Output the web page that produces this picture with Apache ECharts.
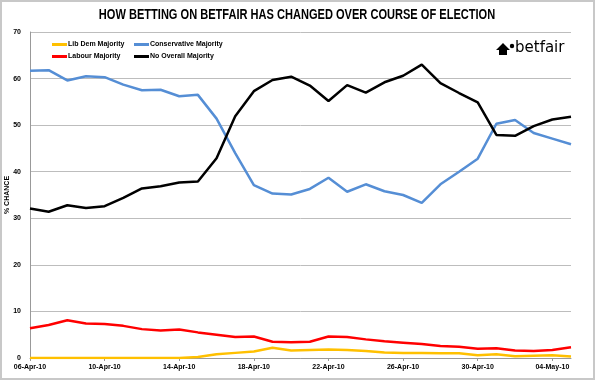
<!DOCTYPE html>
<html><head><meta charset="utf-8">
<script src="https://cdn.jsdelivr.net/npm/echarts@6/dist/echarts.min.js"></script>
<style>html,body{margin:0;padding:0;background:#fff}#c{width:595px;height:380px}</style>
</head><body><div id="c"></div>
<script>
const dates = ["06-Apr-10","07-Apr-10","08-Apr-10","09-Apr-10","10-Apr-10","11-Apr-10","12-Apr-10","13-Apr-10","14-Apr-10","15-Apr-10","16-Apr-10","17-Apr-10","18-Apr-10","19-Apr-10","20-Apr-10","21-Apr-10","22-Apr-10","23-Apr-10","24-Apr-10","25-Apr-10","26-Apr-10","27-Apr-10","28-Apr-10","29-Apr-10","30-Apr-10","01-May-10","02-May-10","03-May-10","04-May-10","05-May-10"];
const libDem = [0,0,0,0,0,0,0,0,0,0.2,0.8,1.1,1.4,2.2,1.6,1.7,1.8,1.7,1.5,1.2,1.1,1.1,1.0,1.0,0.6,0.8,0.4,0.5,0.6,0.3];
const conservative = [61.7,61.8,59.6,60.5,60.3,58.7,57.5,57.6,56.2,56.5,51.4,44.0,37.1,35.3,35.1,36.3,38.7,35.7,37.3,35.8,35.0,33.3,37.3,40.0,42.8,50.3,51.1,48.3,47.1,45.9];
const labour = [6.4,7.1,8.1,7.4,7.3,6.9,6.2,5.9,6.1,5.5,5.0,4.5,4.6,3.5,3.4,3.5,4.6,4.5,4.0,3.6,3.3,3.0,2.6,2.4,2.0,2.1,1.6,1.5,1.7,2.3];
const noOverall = [32.1,31.4,32.8,32.2,32.6,34.4,36.4,36.9,37.7,37.9,42.9,51.9,57.3,59.7,60.4,58.5,55.2,58.6,57.0,59.2,60.6,63.0,59.0,56.9,54.9,47.9,47.7,49.8,51.2,51.8];
const yTicks = [0,10,20,30,40,50,60,70];
const titleText = 'HOW BETTING ON BETFAIR HAS CHANGED OVER COURSE OF ELECTION';

const FONT = "'Liberation Sans', Arial, sans-serif";
const chart = echarts.init(document.getElementById('c'), null, {renderer:'canvas'});
const mk = (name, data, color) => ({
  name, type:'line', data, symbol:'none', smooth:false,
  lineStyle:{color, width:2.5}, itemStyle:{color}
});
chart.setOption({
  animation:false,
  backgroundColor:'#fff',
  legend:[
    {data:['Lib Dem Majority','Labour Majority'], orient:'vertical', left:47, top:36, itemWidth:15, itemHeight:3, itemGap:5, icon:'rect',
     textStyle:{fontFamily:FONT, fontSize:7, fontWeight:'bold', color:'#000', padding:[0,0,0,-4]}},
    {data:['Conservative Majority','No Overall Majority'], orient:'vertical', left:129, top:36, itemWidth:15, itemHeight:3, itemGap:5, icon:'rect',
     textStyle:{fontFamily:FONT, fontSize:7, fontWeight:'bold', color:'#000', padding:[0,0,0,-4]}}
  ],
  grid:{left:30, right:24, top:32, bottom:22, containLabel:false, outerBoundsMode:'none'},
  xAxis:{
    type:'category', data:dates, boundaryGap:false,
    axisLine:{lineStyle:{color:'#999', width:1}},
    axisTick:{show:true, interval:3, length:3, lineStyle:{color:'#999'}},
    axisLabel:{interval:3, fontFamily:FONT, fontSize:7, fontWeight:'bold', color:'#000', margin:6, hideOverlap:false}
  },
  yAxis:{
    type:'value', min:yTicks[0], max:yTicks[yTicks.length-1], interval:10,
    name:'% CHANCE', nameLocation:'middle', nameGap:19, nameRotate:90, nameMoveOverlap:false,
    nameTextStyle:{fontFamily:FONT, fontSize:7, fontWeight:'bold', color:'#000'},
    axisLine:{show:true, lineStyle:{color:'#999'}},
    axisTick:{show:false},
    splitLine:{lineStyle:{color:'#bdbdbd', width:1}},
    axisLabel:{fontFamily:FONT, fontSize:7, fontWeight:'bold', color:'#000', margin:9}
  },
  series:[
    mk('Lib Dem Majority', libDem, '#FFC000'),
    mk('Labour Majority', labour, '#FF0000'),
    mk('Conservative Majority', conservative, '#558ED5'),
    mk('No Overall Majority', noOverall, '#000000')
  ],
  graphic:[
    {type:'rect', shape:{x:1, y:1, width:593, height:378}, style:{fill:'none', stroke:'#c8c8c8', lineWidth:2}, silent:true},
    {type:'text', x:297, y:15, scaleX:0.79, style:{text:titleText, font:"900 14px 'Liberation Sans', Arial, sans-serif", fill:'#000', align:'center', verticalAlign:'middle'}},
    {type:'polygon', shape:{points:[[496,50],[503,43],[510,50],[507,50],[507,55],[499,55],[499,50]]}, style:{fill:'#000'}},
    {type:'circle', shape:{cx:512, cy:46, r:2.2}, style:{fill:'#000'}},
    {type:'text', left:515, top:41, style:{text:'betfair', font:"15px 'DejaVu Sans', sans-serif", fill:'#000'}}
  ]
});
</script></body></html>
